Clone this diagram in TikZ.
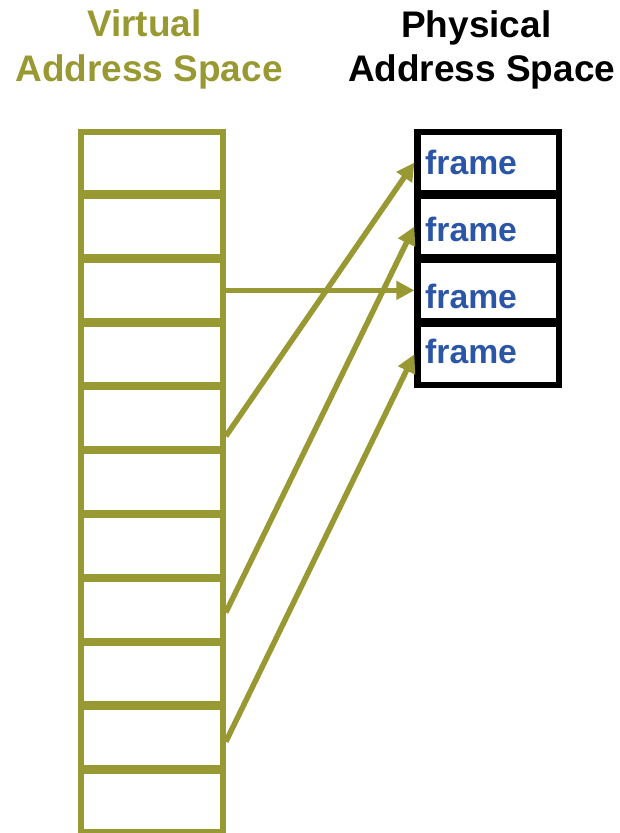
\documentclass[tikz,border=0pt]{standalone}
\usepackage{fontspec}
\setmainfont{Liberation Sans}
\usetikzlibrary{arrows.meta,calc}
\definecolor{vaolive}{HTML}{999933}
\definecolor{frameblue}{HTML}{2B55A6}
\begin{document}
\begin{tikzpicture}[x=1pt,y=-1pt,
  vcell/.style={draw=vaolive, line width=5.7pt, minimum width=141.8pt, minimum height=61.1pt, inner sep=0pt},
  pframe/.style={draw=black, line width=6.2pt, minimum width=141.2pt, minimum height=61.1pt, inner sep=0pt},
  vtitle/.style={text=vaolive, font=\fontsize{37}{44}\selectfont\bfseries, inner sep=0pt, anchor=base},
  ptitle/.style={text=black, font=\fontsize{37}{44}\selectfont\bfseries, inner sep=0pt, anchor=base},
  frametext/.style={text=frameblue, font=\fontsize{33.7}{40}\selectfont\bfseries, inner sep=0pt, anchor=base west},
  maparrow/.style={draw=vaolive, line width=5.5pt, -{Triangle[length=18pt,width=18pt]}}
]
\useasboundingbox (0,0) rectangle (620,833);

% titles
\node[vtitle] (vt1) at (144.5,36.5) {Virtual};
\node[vtitle] (vt2) at (149,81) {Address Space};
\node[ptitle] (pt1) at (476.3,37) {Physical};
\node[ptitle] (pt2) at (481.7,81) {Address Space};

% virtual address space cells
\foreach \k in {0,...,10} {
  \node[vcell] (v\k) at (152.1,{162.55+63.9*\k}) {};
}

% physical frames
\foreach \k in {0,...,3} {
  \node[pframe] (p\k) at (488.1,{162.55+63.9*\k}) {};
}

% frame labels
\node[frametext] (t0) at (425,174) {frame};
\node[frametext] (t1) at (425,241.7) {frame};
\node[frametext] (t2) at (425,308.3) {frame};
\node[frametext] (t3) at (425,363.3) {frame};

% mapping arrows
\draw[maparrow] (v2.east) -- (p2.west);
\draw[maparrow] ($(v4.east)+(0,18)$) -- (p0.west);
\draw[maparrow] ($(v7.east)+(0,2.5)$) -- (p1.west);
\draw[maparrow] ($(v9.east)+(0,4)$) -- (p3.west);
\end{tikzpicture}
\end{document}
